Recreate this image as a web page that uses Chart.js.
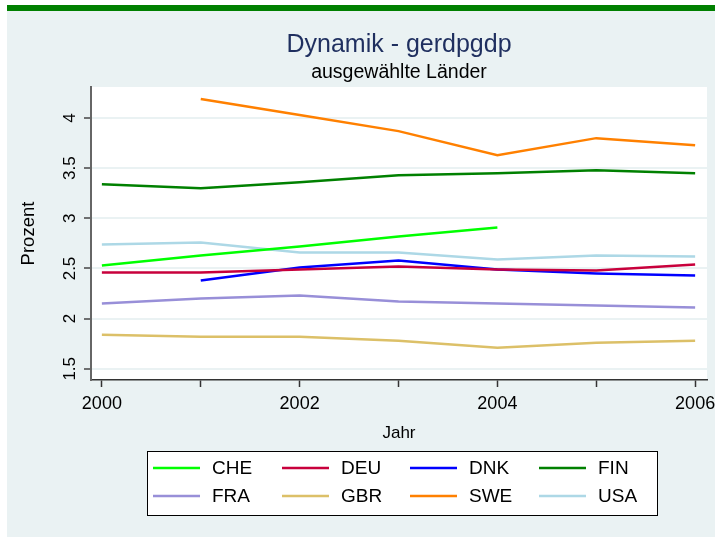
<!DOCTYPE html>
<html>
<head>
<meta charset="utf-8">
<script src="https://cdn.jsdelivr.net/npm/chart.js@4"></script>
<style>
  html, body { margin: 0; padding: 0; background: #fff; }
  #chart { display: block; }
</style>
</head>
<body>
<canvas id="chart" width="715" height="538"></canvas>
<script>
const years = [2000, 2001, 2002, 2003, 2004, 2005, 2006];
const labeledYears = [2000, 2002, 2004, 2006];
const yTicks = [1.5, 2, 2.5, 3, 3.5, 4];

const countries = ['CHE', 'DEU', 'DNK', 'FIN', 'FRA', 'GBR', 'SWE', 'USA'];
const che = [2.53, 2.63, 2.72, 2.82, 2.91, null, null];
const deu = [2.46, 2.46, 2.49, 2.52, 2.49, 2.48, 2.54];
const dnk = [null, 2.38, 2.51, 2.58, 2.49, 2.45, 2.43];
const fin = [3.34, 3.30, 3.36, 3.43, 3.45, 3.48, 3.45];
const fra = [2.15, 2.20, 2.23, 2.17, 2.15, 2.13, 2.11];
const gbr = [1.84, 1.82, 1.82, 1.78, 1.71, 1.76, 1.78];
const swe = [null, 4.19, 4.03, 3.87, 3.63, 3.80, 3.73];
const usa = [2.74, 2.76, 2.66, 2.66, 2.59, 2.63, 2.62];

const seriesValues = [che, deu, dnk, fin, fra, gbr, swe, usa];
const lineColors = ['#00ff00', '#c8003c', '#0000ff', '#008000', '#988fd8', '#dcc068', '#ff8000', '#add8e6'];

const FONT = '"Liberation Sans", Arial, sans-serif';
const panelColor = '#eaf2f3';

// background panel, green bar, white plot region
const backdrop = {
    id: 'backdrop',
    beforeDraw(chart) {
        const ctx = chart.ctx;
        const a = chart.chartArea;
        ctx.save();
        ctx.fillStyle = panelColor;
        ctx.fillRect(7, 11, 708, 526);
        ctx.fillStyle = '#008000';
        ctx.fillRect(7, 5, 708, 6);
        ctx.fillStyle = '#fff';
        ctx.fillRect(a.left, a.top, a.right - a.left, a.bottom - a.top);
        ctx.restore();
    }
};

// titles, rotated y labels, axis titles and legend box
const decorations = {
    id: 'decorations',
    afterDraw(chart) {
        const ctx = chart.ctx;
        const a = chart.chartArea;
        const yScale = chart.scales.y;
        const cx = (a.left + a.right) / 2;
        ctx.save();

        ctx.textAlign = 'center';
        ctx.textBaseline = 'alphabetic';
        ctx.fillStyle = '#1f2f5f';
        ctx.font = '25px ' + FONT;
        ctx.fillText('Dynamik - gerdpgdp', cx, 52);
        ctx.fillStyle = '#000';
        ctx.font = '19.5px ' + FONT;
        ctx.fillText('ausgewählte Länder', cx, 78);

        // y tick labels, reading upwards
        ctx.font = '17px ' + FONT;
        yTicks.forEach(v => {
            ctx.save();
            ctx.translate(75, yScale.getPixelForValue(v));
            ctx.rotate(-Math.PI / 2);
            ctx.fillText(String(v), 0, 0);
            ctx.restore();
        });

        ctx.save();
        ctx.font = '18.5px ' + FONT;
        ctx.translate(34, (a.top + a.bottom) / 2);
        ctx.rotate(-Math.PI / 2);
        ctx.fillText('Prozent', 0, 0);
        ctx.restore();

        ctx.font = '17px ' + FONT;
        ctx.fillText('Jahr', cx, 438);

        // legend
        const box = { x: 147, y: 451, w: 510, h: 64 };
        ctx.fillStyle = '#fff';
        ctx.fillRect(box.x, box.y, box.w, box.h);
        ctx.strokeStyle = '#000';
        ctx.lineWidth = 1;
        ctx.strokeRect(box.x + 0.5, box.y + 0.5, box.w, box.h);

        const colX = [153, 282, 410, 539];
        const rowY = [468, 496];
        ctx.font = '19px ' + FONT;
        ctx.textAlign = 'left';
        ctx.textBaseline = 'middle';
        chart.data.datasets.forEach((ds, i) => {
            const x = colX[i % 4];
            const y = rowY[Math.floor(i / 4)];
            ctx.strokeStyle = ds.borderColor;
            ctx.lineWidth = 2.5;
            ctx.beginPath();
            ctx.moveTo(x, y);
            ctx.lineTo(x + 47, y);
            ctx.stroke();
            ctx.fillStyle = '#000';
            ctx.fillText(ds.label, x + 59, y + 1);
        });
        ctx.restore();
    }
};

const datasets = countries.map((name, i) => ({
    label: name,
    data: years.map((yr, j) => ({ x: yr, y: seriesValues[i][j] })),
    borderColor: lineColors[i],
    backgroundColor: lineColors[i],
    borderWidth: 2.5,
    pointRadius: 0,
    tension: 0,
    spanGaps: false
}));

new Chart(document.getElementById('chart').getContext('2d'), {
    type: 'line',
    data: { datasets: datasets },
    options: {
        responsive: false,
        animation: false,
        devicePixelRatio: 1,
        layout: { padding: { left: 0, right: 8, top: 87, bottom: 0 } },
        plugins: {
            legend: { display: false },
            tooltip: { enabled: false }
        },
        scales: {
            x: {
                type: 'linear',
                min: 1999.89,
                max: 2006.12,
                afterBuildTicks: s => { s.ticks = years.map(v => ({ value: v })); },
                afterFit: s => { s.height = 158; s.paddingLeft = 0; s.paddingRight = 0; },
                ticks: {
                    autoSkip: false,
                    maxRotation: 0,
                    padding: 6,
                    color: '#000',
                    font: { family: FONT, size: 18 },
                    callback: v => labeledYears.includes(v) ? String(v) : ''
                },
                grid: {
                    drawOnChartArea: false,
                    drawTicks: true,
                    tickLength: 7,
                    tickColor: '#333',
                    tickWidth: 1.5
                },
                border: { color: '#333', width: 1.5 }
            },
            y: {
                type: 'linear',
                min: 1.388,
                max: 4.31,
                afterBuildTicks: s => { s.ticks = yTicks.map(v => ({ value: v })); },
                afterFit: s => { s.width = 91; s.paddingTop = 0; s.paddingBottom = 0; },
                ticks: { display: false },
                grid: {
                    color: panelColor,
                    lineWidth: 2,
                    drawTicks: true,
                    tickLength: 7,
                    tickColor: '#444',
                    tickWidth: 1.5
                },
                border: { color: '#666', width: 2 }
            }
        }
    },
    plugins: [backdrop, decorations]
});
</script>
</body>
</html>
